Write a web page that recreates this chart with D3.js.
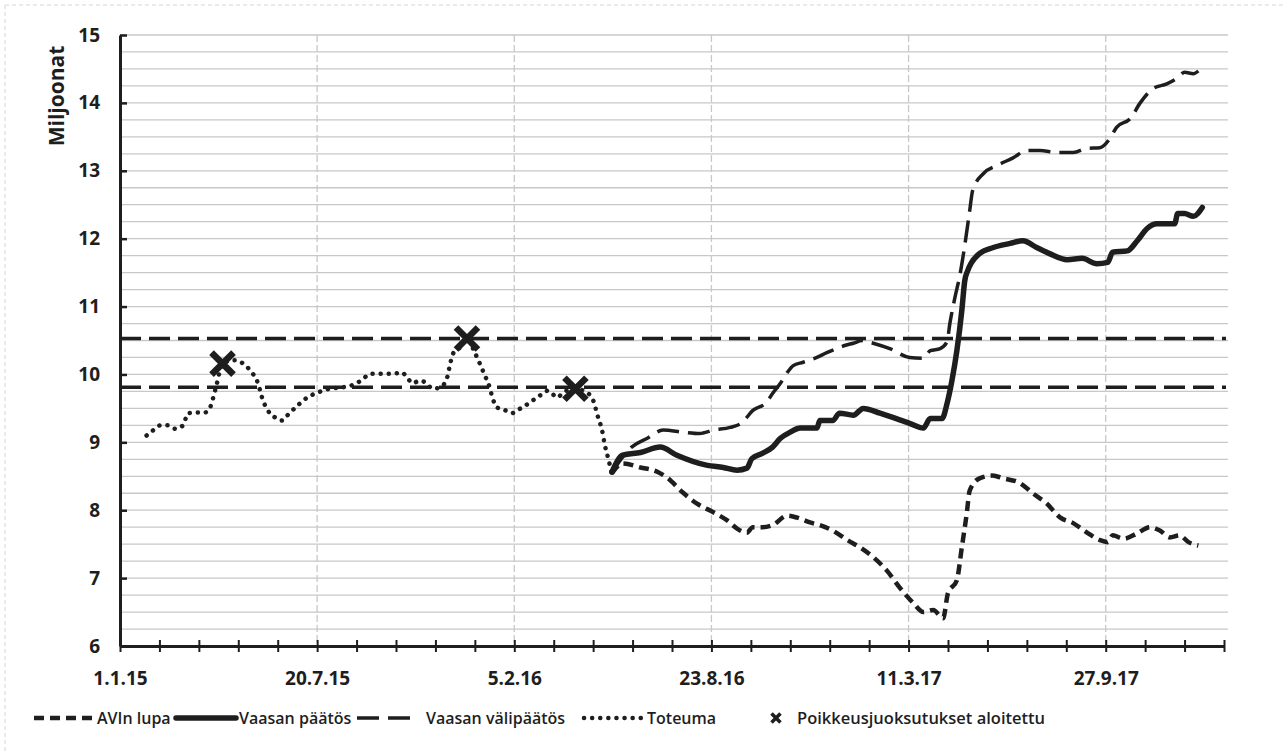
<!DOCTYPE html>
<html>
<head>
<meta charset="utf-8">
<script src="https://cdn.jsdelivr.net/npm/d3@7"></script>
<style>
  body { margin: 0; background: #fff; }
  svg { display: block; }
  text { font-family: "Open Sans", sans-serif; fill: #1e1e1e; }
</style>
</head>
<body>
<svg id="chart" width="1288" height="756"></svg>
<script>
// Data (million m3)
const avinLupa = [
  ["2016-05-14", 8.54], ["2016-05-25", 8.69], ["2016-06-12", 8.63], ["2016-06-30", 8.56],
  ["2016-07-09", 8.48], ["2016-07-25", 8.26], ["2016-08-08", 8.10], ["2016-08-25", 7.97],
  ["2016-09-08", 7.85], ["2016-09-18", 7.73], ["2016-09-28", 7.67], ["2016-10-04", 7.75],
  ["2016-10-14", 7.75], ["2016-10-24", 7.78], ["2016-11-08", 7.92], ["2016-11-18", 7.89],
  ["2016-12-01", 7.82], ["2016-12-11", 7.78], ["2016-12-24", 7.70], ["2017-01-08", 7.56],
  ["2017-01-21", 7.45], ["2017-02-03", 7.31], ["2017-02-17", 7.11], ["2017-03-02", 6.86],
  ["2017-03-16", 6.63], ["2017-03-26", 6.50], ["2017-04-05", 6.53], ["2017-04-15", 6.41],
  ["2017-04-20", 6.78], ["2017-04-29", 6.97], ["2017-05-04", 7.45], ["2017-05-09", 7.95],
  ["2017-05-12", 8.29], ["2017-05-22", 8.47], ["2017-06-04", 8.51], ["2017-06-15", 8.47],
  ["2017-07-02", 8.40], ["2017-07-15", 8.25], ["2017-07-29", 8.10], ["2017-08-12", 7.89],
  ["2017-08-25", 7.81], ["2017-09-08", 7.67], ["2017-09-21", 7.56], ["2017-09-29", 7.53],
  ["2017-10-04", 7.63], ["2017-10-15", 7.58], ["2017-10-29", 7.66], ["2017-11-11", 7.75],
  ["2017-11-21", 7.70], ["2017-12-01", 7.60], ["2017-12-11", 7.63], ["2017-12-20", 7.53],
  ["2017-12-30", 7.48]
];

const vaasanPaatos = [
  ["2016-05-14", 8.56], ["2016-05-25", 8.81], ["2016-06-12", 8.85], ["2016-07-02", 8.93],
  ["2016-07-19", 8.81], ["2016-08-19", 8.66], ["2016-09-04", 8.63], ["2016-09-18", 8.59],
  ["2016-09-28", 8.62], ["2016-10-03", 8.76], ["2016-10-14", 8.84], ["2016-10-24", 8.93],
  ["2016-11-01", 9.06], ["2016-11-11", 9.15], ["2016-11-21", 9.21], ["2016-12-08", 9.21],
  ["2016-12-11", 9.32], ["2016-12-24", 9.32], ["2016-12-31", 9.43], ["2017-01-14", 9.40],
  ["2017-01-24", 9.50], ["2017-02-10", 9.43], ["2017-03-12", 9.28], ["2017-03-26", 9.21],
  ["2017-04-02", 9.35], ["2017-04-14", 9.35], ["2017-04-19", 9.57], ["2017-04-24", 9.91],
  ["2017-04-29", 10.35], ["2017-05-04", 10.94], ["2017-05-07", 11.38], ["2017-05-10", 11.53],
  ["2017-05-14", 11.65], ["2017-05-22", 11.78], ["2017-06-05", 11.87], ["2017-06-22", 11.93],
  ["2017-07-05", 11.97], ["2017-07-19", 11.87], ["2017-08-01", 11.78], ["2017-08-19", 11.69],
  ["2017-09-03", 11.71], ["2017-09-18", 11.63], ["2017-09-29", 11.65], ["2017-10-04", 11.80],
  ["2017-10-19", 11.82], ["2017-10-29", 11.97], ["2017-11-08", 12.15], ["2017-11-18", 12.22],
  ["2017-12-06", 12.22], ["2017-12-09", 12.37], ["2017-12-16", 12.37], ["2017-12-25", 12.33],
  ["2018-01-03", 12.46]
];

const vaasanValipaatos = [
  ["2016-05-14", 8.56], ["2016-06-03", 8.93], ["2016-06-19", 9.06], ["2016-07-05", 9.18],
  ["2016-07-25", 9.15], ["2016-08-11", 9.13], ["2016-08-25", 9.18], ["2016-09-11", 9.22],
  ["2016-09-23", 9.29], ["2016-10-04", 9.47], ["2016-10-18", 9.59], ["2016-10-24", 9.72],
  ["2016-11-01", 9.87], ["2016-11-08", 10.03], ["2016-11-14", 10.13], ["2016-11-24", 10.18],
  ["2016-12-08", 10.25], ["2016-12-18", 10.32], ["2016-12-28", 10.38], ["2017-01-06", 10.43],
  ["2017-01-14", 10.46], ["2017-01-23", 10.50], ["2017-02-03", 10.46], ["2017-02-20", 10.38],
  ["2017-03-12", 10.25], ["2017-03-26", 10.24], ["2017-04-02", 10.35], ["2017-04-12", 10.38],
  ["2017-04-19", 10.48], ["2017-04-22", 10.76], ["2017-04-27", 11.13], ["2017-05-02", 11.46],
  ["2017-05-07", 11.90], ["2017-05-12", 12.41], ["2017-05-15", 12.71], ["2017-05-26", 12.96],
  ["2017-06-09", 13.08], ["2017-06-25", 13.19], ["2017-07-09", 13.30], ["2017-07-22", 13.30],
  ["2017-08-09", 13.27], ["2017-08-25", 13.27], ["2017-09-08", 13.33], ["2017-09-21", 13.34],
  ["2017-10-01", 13.47], ["2017-10-08", 13.64], ["2017-10-22", 13.77], ["2017-11-01", 14.00],
  ["2017-11-14", 14.21], ["2017-11-28", 14.28], ["2017-12-09", 14.37], ["2017-12-16", 14.45],
  ["2017-12-25", 14.43], ["2017-12-30", 14.47]
];

const toteuma = [
  ["2015-01-28", 9.10], ["2015-02-03", 9.17], ["2015-02-11", 9.25], ["2015-02-19", 9.25],
  ["2015-02-26", 9.20], ["2015-03-06", 9.25], ["2015-03-11", 9.43], ["2015-03-20", 9.44],
  ["2015-03-28", 9.44], ["2015-04-02", 9.50], ["2015-04-05", 9.63], ["2015-04-09", 9.85],
  ["2015-04-15", 10.16], ["2015-04-28", 10.21], ["2015-05-06", 10.16], ["2015-05-13", 10.06],
  ["2015-05-21", 9.87], ["2015-05-26", 9.62], ["2015-05-31", 9.47], ["2015-06-07", 9.37],
  ["2015-06-14", 9.32], ["2015-06-20", 9.40], ["2015-06-30", 9.54], ["2015-07-10", 9.66],
  ["2015-07-20", 9.73], ["2015-08-02", 9.79], ["2015-08-15", 9.81], ["2015-08-29", 9.87],
  ["2015-09-05", 9.94], ["2015-09-12", 10.01], ["2015-09-25", 10.01], ["2015-10-05", 10.01],
  ["2015-10-14", 10.03], ["2015-10-19", 9.96], ["2015-10-25", 9.87], ["2015-11-01", 9.91],
  ["2015-11-08", 9.87], ["2015-11-14", 9.79], ["2015-11-22", 9.81], ["2015-11-29", 9.96],
  ["2015-12-02", 10.16], ["2015-12-05", 10.31], ["2015-12-12", 10.40], ["2015-12-19", 10.53],
  ["2015-12-27", 10.32], ["2016-01-01", 10.16], ["2016-01-06", 9.99], ["2016-01-11", 9.81],
  ["2016-01-14", 9.65], ["2016-01-19", 9.51], ["2016-01-27", 9.47], ["2016-02-03", 9.43],
  ["2016-02-09", 9.48], ["2016-02-16", 9.54], ["2016-02-24", 9.62], ["2016-03-02", 9.69],
  ["2016-03-10", 9.76], ["2016-03-20", 9.66], ["2016-03-25", 9.73], ["2016-04-07", 9.79],
  ["2016-04-19", 9.73], ["2016-04-25", 9.62], ["2016-04-30", 9.37], ["2016-05-04", 9.18],
  ["2016-05-07", 8.95], ["2016-05-10", 8.78], ["2016-05-14", 8.54]
];

// Poikkeusjuoksutukset aloitettu (markers)
const poikkeus = [["2015-04-15", 10.16], ["2015-12-19", 10.53], ["2016-04-07", 9.79]];

// two horizontal dashed levels
const tasot = [10.53, 9.81];

const yTickValues = [6, 7, 8, 9, 10, 11, 12, 13, 14, 15];
const startDate = "2015-01-01";
const endDate = "2018-01-25";
const minorDays = 40;
const majorDays = 200;

const parse = d3.timeParse("%Y-%m-%d");
const fmt = d3.timeFormat("%-d.%-m.%y");
const ink = "#1e1e1e";

const svg = d3.select("#chart");

// faint scan border
svg.append("line").attr("x1", 5).attr("y1", 5).attr("x2", 5).attr("y2", 751)
  .attr("stroke", "#d6d6d6").attr("stroke-dasharray", "4,3");
svg.append("line").attr("x1", 5).attr("y1", 5).attr("x2", 1283).attr("y2", 5)
  .attr("stroke", "#d6d6d6").attr("stroke-dasharray", "4,3");

const x = d3.scaleTime().domain([parse(startDate), parse(endDate)]).range([120, 1224]);
const y = d3.scaleLinear().domain([6, 15]).range([646, 35]);

const start = parse(startDate);
const minorTicks = d3.range(0, 1121, minorDays).map((d) => d3.timeDay.offset(start, d));
const majorTicks = d3.range(0, 1121, majorDays).map((d) => d3.timeDay.offset(start, d));

// gridlines
const grid = svg.append("g").attr("stroke", "#c8c8c8").attr("stroke-width", 1.3);
d3.range(6.25, 15.01, 0.25).forEach((v) => {
  grid.append("line")
    .attr("x1", 120).attr("x2", 1228)
    .attr("y1", y(v)).attr("y2", y(v));
});
majorTicks.slice(1).forEach((d) => {
  grid.append("line")
    .attr("x1", x(d)).attr("x2", x(d))
    .attr("y1", y(15)).attr("y2", y(6))
    .attr("stroke-dasharray", "7,3");
});

// horizontal levels
tasot.forEach((v) => {
  svg.append("line")
    .attr("x1", x(start)).attr("x2", 1226)
    .attr("y1", y(v)).attr("y2", y(v))
    .attr("stroke", ink).attr("stroke-width", 3.5)
    .attr("stroke-dasharray", "21,8");
});

// series
const line = d3.line()
  .x((d) => x(parse(d[0])))
  .y((d) => y(d[1]))
  .curve(d3.curveMonotoneX);

const styles = {
  avin: { width: 4.5, dash: "10,6", cap: "butt" },
  paatos: { width: 5.5, dash: null, cap: "round" },
  vali: { width: 3.5, dash: "22,9", cap: "butt" },
  toteuma: { width: 4.5, dash: "0.1,8", cap: "round" },
};

[[avinLupa, styles.avin], [vaasanValipaatos, styles.vali], [vaasanPaatos, styles.paatos], [toteuma, styles.toteuma]]
  .forEach(([data, s]) => {
    svg.append("path")
      .attr("d", line(data))
      .attr("fill", "none")
      .attr("stroke", ink)
      .attr("stroke-width", s.width)
      .attr("stroke-linecap", s.cap)
      .attr("stroke-linejoin", "round")
      .attr("stroke-dasharray", s.dash);
  });

// X markers
const cross = (r) => `M${-r},${-r}L${r},${r}M${-r},${r}L${r},${-r}`;
poikkeus.forEach((d) => {
  svg.append("path")
    .attr("transform", `translate(${x(parse(d[0]))},${y(d[1])})`)
    .attr("d", cross(11))
    .attr("stroke", ink)
    .attr("stroke-width", 6.5)
    .attr("stroke-linecap", "butt");
});

// axes
const xAxis = d3.axisBottom(x)
  .tickValues(minorTicks)
  .tickSizeInner(6)
  .tickSizeOuter(0)
  .tickPadding(20)
  .tickFormat((d) => (majorTicks.some((m) => +m === +d) && +d < +parse(endDate) ? fmt(d) : ""));

const gx = svg.append("g").attr("transform", `translate(0,${y(6)})`).call(xAxis);
gx.select(".domain").attr("stroke", ink).attr("stroke-width", 3);
gx.selectAll(".tick line").attr("stroke", ink).attr("stroke-width", 2).attr("y1", -6);
gx.selectAll(".tick text")
  .attr("font-size", 19).attr("font-weight", 700)
  .attr("font-family", "Open Sans").attr("fill", ink);

const yAxis = d3.axisLeft(y)
  .tickValues(yTickValues)
  .tickSizeInner(5)
  .tickSizeOuter(0)
  .tickPadding(15)
  .tickFormat(d3.format("d"));

const gy = svg.append("g").attr("transform", `translate(${x(start)},0)`).call(yAxis);
gy.select(".domain").attr("stroke", ink).attr("stroke-width", 3);
gy.selectAll(".tick line").attr("stroke", ink).attr("stroke-width", 2.5).attr("x2", 7);
gy.selectAll(".tick text")
  .attr("font-size", 19).attr("font-weight", 700)
  .attr("font-family", "Open Sans").attr("fill", ink);

svg.append("text")
  .attr("transform", "translate(64,96) rotate(-90)")
  .attr("text-anchor", "middle")
  .attr("font-size", 21)
  .attr("font-weight", 700)
  .text("Miljoonat");

// legend
const legend = svg.append("g").attr("transform", "translate(0,718)");
const legendItems = [
  { label: "AVIn lupa", x0: 34, x1: 94, tx: 97, s: styles.avin },
  { label: "Vaasan päätös", x0: 176, x1: 236, tx: 239, s: styles.paatos },
  { label: "Vaasan välipäätös", x0: 357, x1: 417, tx: 426, s: styles.vali },
  { label: "Toteuma", x0: 584, x1: 643, tx: 647, s: styles.toteuma },
];
legendItems.forEach((it) => {
  legend.append("line")
    .attr("x1", it.x0).attr("x2", it.x1)
    .attr("stroke", ink)
    .attr("stroke-width", it.s.width)
    .attr("stroke-linecap", it.s.cap)
    .attr("stroke-dasharray", it.s.dash);
  legend.append("text")
    .attr("x", it.tx).attr("y", 6)
    .attr("font-size", 16)
    .attr("font-weight", 600)
    .text(it.label);
});
legend.append("path")
  .attr("transform", "translate(776,0)")
  .attr("d", cross(4.5))
  .attr("stroke", ink)
  .attr("stroke-width", 3.5);
legend.append("text")
  .attr("x", 797).attr("y", 6)
  .attr("font-size", 16.5)
  .attr("font-weight", 600)
  .text("Poikkeusjuoksutukset aloitettu");
</script>
</body>
</html>
